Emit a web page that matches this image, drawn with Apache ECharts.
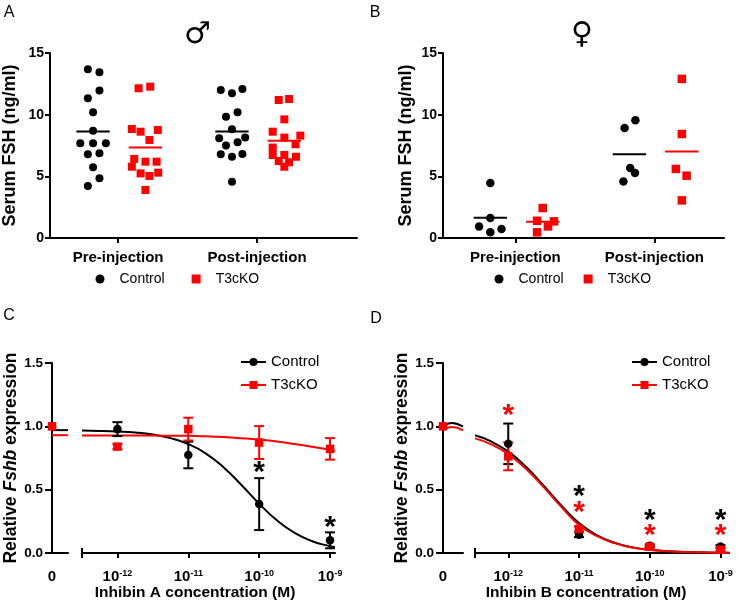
<!DOCTYPE html>
<html><head><meta charset="utf-8">
<script src="https://cdn.jsdelivr.net/npm/echarts@6/dist/echarts.min.js"></script>
<style>html,body{margin:0;padding:0;background:#fff}#c{width:742px;height:610px}</style>
</head><body><div id="c"></div>
<script>
// ================= DATA =================
const injectionCats = ['Pre-injection', 'Post-injection'];
const groupNames = ['Control', 'T3cKO'];

// Panel A (male): serum FSH, ng/ml
const aPreControl  = [13.68, 13.44, 11.95, 11.33, 10.19, 8.70, 7.68, 7.68, 7.68, 6.79, 6.87, 5.73, 4.84, 4.22];
const aPreT3cKO    = [12.14, 12.27, 8.84, 8.62, 8.76, 7.95, 6.41, 6.19, 6.19, 5.78, 5.24, 5.03, 5.30, 3.89];
const aPostControl = [12.00, 11.73, 12.08, 9.84, 10.19, 8.81, 8.08, 8.14, 7.50, 7.76, 6.79, 6.59, 6.81, 4.57];
const aPostT3cKO   = [11.19, 11.27, 9.62, 8.62, 8.14, 8.30, 7.33, 7.60, 6.73, 6.73, 6.59, 6.24, 6.14, 5.78];
// side-by-side spread of each dot in the dot plot (in dot widths)
const aPreControlSpread  = [-0.65, 0.8, 0.8, -0.65, 0, 0, -1.6, 0, 1.6, -0.65, 0.8, 0, 0.8, -0.65];
const aPreT3cKOSpread    = [-0.85, 0.6, -1.7, -0.6, 1.55, 0.5, -1.4, 0, 1.4, -1.7, -0.6, 0.5, 1.6, 0];
const aPostControlSpread = [-1.4, 0, 1.3, -0.75, 0.7, 0, -1.6, 1.65, -0.75, 0.7, -1.4, 0, 1.3, 0];
const aPostT3cKOSpread   = [-0.7, 0.6, 0, -1.45, 0, 2.0, -1.45, 1.4, -1.45, 0, 1.45, -0.7, 0.6, 0];

// Panel B (female): serum FSH, ng/ml
const bPreControl  = [4.46, 1.62, 0.94, 0.46, 0.73];
const bPreT3cKO    = [2.43, 1.40, 1.35, 0.94, 0.46];
const bPostControl = [8.92, 9.54, 4.59, 5.68, 5.27];
const bPostT3cKO   = [12.90, 8.43, 5.60, 5.05, 3.05];
const bPreControlSpread  = [0, 0, -1.4, 0, 1.4];
const bPreT3cKOSpread    = [0, -0.7, 1.4, 0.65, -0.7];
const bPostControlSpread = [-0.6, 0.75, -0.75, 0.1, 0.7];
const bPostT3cKOSpread   = [0, 0, -0.75, 0.6, 0];

// Panels C/D: relative Fshb expression vs log10 inhibin concentration (M)
const doseLog = [-12, -11, -10, -9];
const cZeroControl = 1.0, cZeroT3cKO = 1.0;
const cControlMean = [0.978, 0.774, 0.386, 0.100];
const cControlSem  = [0.055, 0.105, 0.205, 0.063];
const cT3cKOMean   = [0.840, 0.978, 0.872, 0.822];
const cT3cKOSem    = [0.020, 0.090, 0.130, 0.085];
const dZeroControl = 1.0, dZeroT3cKO = 1.0;
const dControlMean = [0.862, 0.145, 0.058, 0.052];
const dControlSem  = [0.160, 0.020, 0.010, 0.010];
const dT3cKOMean   = [0.763, 0.190, 0.050, 0.026];
const dT3cKOSem    = [0.110, 0.020, 0.010, 0.010];

// fitted curves
const cCurveX       = [-12.5, -12.25, -12, -11.75, -11.5, -11.25, -11, -10.75, -10.5, -10.25, -10, -9.75, -9.5, -9.25, -9, -8.93];
const cCurveControl = [0.967, 0.964, 0.959, 0.951, 0.935, 0.907, 0.86, 0.785, 0.675, 0.537, 0.389, 0.258, 0.159, 0.093, 0.053, 0.045];
const cCurveT3cKO   = [0.928, 0.928, 0.928, 0.927, 0.927, 0.926, 0.925, 0.921, 0.915, 0.906, 0.895, 0.88, 0.86, 0.838, 0.815, 0.808];
const dCurveX       = [-12.47, -12.25, -12, -11.75, -11.5, -11.25, -11, -10.75, -10.5, -10.25, -10, -9.5, -9, -8.88];
const dCurveControl = [0.93, 0.883, 0.80, 0.681, 0.532, 0.376, 0.236, 0.142, 0.082, 0.046, 0.025, 0.007, 0.002, 0.0015];
const dCurveT3cKO   = [0.905, 0.86, 0.78, 0.665, 0.52, 0.365, 0.222, 0.135, 0.078, 0.044, 0.024, 0.007, 0.002, 0.0015];
// curve pieces shown in the "0" segment of the broken axis
const cStubX = [0, 1];
const cStubControl = [0.97, 0.97];
const cStubT3cKO   = [0.93, 0.93];
const dStubX = [0.1, 0.45, 1];
const dStubControl = [1.01, 1.027, 0.998];
const dStubT3cKO   = [0.98, 0.994, 0.968];

// significance asterisks (x = log dose, y = value where drawn)
const cStarControlX = [-10, -9];
const cStarControlY = [0.68, 0.245];
const dStarControlX = [-11, -10, -9];
const dStarControlY = [0.494, 0.302, 0.302];
const dStarT3cKOX   = [-12, -11, -10, -9];
const dStarT3cKOY   = [1.131, 0.368, 0.184, 0.184];

// ================= STYLE / HELPERS =================
const FONT = '"Liberation Sans", Arial, sans-serif';
const BLACK = '#000000', RED = '#ff0000';
const DOT = 8;
const GROUP_SHIFT = [-0.18, 0.197];
const MEAN_HALF = 0.12;
const mean = a => a.reduce((s, v) => s + v, 0) / a.length;
const lineAx = {show: true, onZero: false, lineStyle: {color: BLACK, width: 2}};
const tickStyle = {color: BLACK, width: 2};

function dotSeries(name, lists, spreads, g, ax, symbol, color, size) {
  const data = [];
  lists.forEach((vals, ci) => vals.forEach((v, i) => data.push({
    value: [ci + 1 + GROUP_SHIFT[g], v], symbolOffset: [spreads[ci][i] * DOT, 0]})));
  return {type: 'scatter', name, xAxisIndex: ax, yAxisIndex: ax, symbol, symbolSize: size,
    itemStyle: {color, opacity: 1}, data, z: 3, silent: true};
}
function meanSeries(lists, g, ax, color) {
  return {type: 'custom', xAxisIndex: ax, yAxisIndex: ax, silent: true, z: 4,
    data: lists.map((vals, ci) => [ci + 1 + GROUP_SHIFT[g], mean(vals)]),
    encode: {x: 0, y: 1},
    renderItem: (p, api) => {
      const x = api.value(0), m = api.value(1);
      const a = api.coord([x - MEAN_HALF, m]), b = api.coord([x + MEAN_HALF, m]);
      return {type: 'line', shape: {x1: a[0], y1: a[1], x2: b[0], y2: b[1]}, style: {stroke: color, lineWidth: 2}};
    }};
}
function errSeries(xs, means, errs, ax, color) {
  return {type: 'custom', xAxisIndex: ax, yAxisIndex: ax, silent: true, z: 3,
    data: xs.map((x, i) => [x, means[i], errs[i]]), encode: {x: 0, y: 1},
    renderItem: (p, api) => {
      const x = api.value(0), m = api.value(1), e = api.value(2);
      const t = api.coord([x, m + e]), b = api.coord([x, m - e]);
      const hw = 5, st = {stroke: color, lineWidth: 2};
      return {type: 'group', children: [
        {type: 'line', shape: {x1: t[0], y1: t[1], x2: b[0], y2: b[1]}, style: st},
        {type: 'line', shape: {x1: t[0] - hw, y1: t[1], x2: t[0] + hw, y2: t[1]}, style: st},
        {type: 'line', shape: {x1: b[0] - hw, y1: b[1], x2: b[0] + hw, y2: b[1]}, style: st}]};
    }};
}
function pointSeries(xs, ys, ax, color, symbol, size) {
  return {type: 'scatter', xAxisIndex: ax, yAxisIndex: ax, symbol, symbolSize: size, silent: true, z: 4,
    itemStyle: {color, opacity: 1}, data: xs.map((x, i) => [x, ys[i]])};
}
function curveSeries(name, xs, ys, ax, color, symbol) {
  return {type: 'line', name, xAxisIndex: ax, yAxisIndex: ax, data: xs.map((x, i) => [x, ys[i]]),
    smooth: 0.5, symbol, showSymbol: false, symbolSize: 8, silent: true, z: 2,
    lineStyle: {color, width: 2}, itemStyle: {color}};
}
function starSeries(xs, ys, ax, color) {
  return {type: 'custom', xAxisIndex: ax, yAxisIndex: ax, silent: true, z: 6,
    data: xs.map((x, i) => [x, ys[i]]), encode: {x: 0, y: 1},
    renderItem: (p, api) => {
      const c = api.coord([api.value(0), api.value(1)]);
      return {type: 'text', x: c[0], y: c[1] + 6, style: {text: '*', fill: color, fontSize: 30, fontWeight: 'bold',
        fontFamily: FONT, align: 'center', verticalAlign: 'middle', textAlign: 'center', textVerticalAlign: 'middle', opacity: 1}};
    }};
}
function dotYAxis(gi, nameGap) {
  return {type: 'value', gridIndex: gi, min: 0, max: 15, interval: 5,
    name: 'Serum FSH (ng/ml)', nameLocation: 'middle', nameGap,
    nameTextStyle: {fontSize: 18, fontWeight: 'bold', color: BLACK, fontFamily: FONT},
    axisLine: lineAx, axisTick: {show: true, length: 5, lineStyle: tickStyle},
    axisLabel: {color: BLACK, fontSize: 14, fontWeight: 'bold', fontFamily: FONT, margin: 6},
    splitLine: {show: false}};
}
function dotXAxis(gi, min, max) {
  return {type: 'value', gridIndex: gi, min, max, axisLine: lineAx,
    axisTick: {show: true, length: 5, customValues: [1, 2], lineStyle: tickStyle},
    axisLabel: {customValues: [1, 2], formatter: v => injectionCats[Math.round(v) - 1],
      color: BLACK, fontSize: 15, fontWeight: 'bold', fontFamily: FONT, margin: 12},
    splitLine: {show: false}};
}
function doseYAxis(gi, show, nameGap) {
  return {type: 'value', gridIndex: gi, min: 0, max: 1.5, interval: 0.5, show,
    name: '{n|Relative }{i|Fshb}{n| expression}', nameLocation: 'middle', nameGap,
    nameTextStyle: {rich: {
      n: {fontSize: 17.5, fontWeight: 'bold', color: BLACK, fontFamily: FONT},
      i: {fontSize: 17.5, fontWeight: 'bold', fontStyle: 'italic', color: BLACK, fontFamily: FONT}}},
    axisLine: lineAx, axisTick: {show: true, length: 7, lineStyle: tickStyle},
    axisLabel: {color: BLACK, fontSize: 13.5, fontWeight: 'bold', fontFamily: FONT, margin: 9,
      formatter: v => v.toFixed(1)},
    splitLine: {show: false}};
}
const powRich = {
  b: {fontSize: 15, fontWeight: 'bold', color: BLACK, fontFamily: FONT},
  s: {fontSize: 9, fontWeight: 'bold', color: BLACK, fontFamily: FONT, verticalAlign: 'top'}
};
function doseXAxisRight(gi, min, max) {
  return {type: 'value', gridIndex: gi, min, max, axisLine: lineAx,
    axisTick: {show: true, length: 5, customValues: [min].concat(doseLog), lineStyle: tickStyle},
    axisLabel: {customValues: doseLog, formatter: v => '{b|10}{s|' + v + '}', rich: powRich, margin: 16},
    splitLine: {show: false}};
}
function capXAxis(gi, min, max) {
  return {type: 'value', gridIndex: gi, min, max, position: 'bottom', axisLine: {show: false},
    axisTick: {show: true, inside: true, length: 5, customValues: [min], lineStyle: tickStyle},
    axisLabel: {show: false}, splitLine: {show: false}};
}
function doseXAxisLeft(gi) {
  return {type: 'value', gridIndex: gi, min: 0, max: 1, axisLine: lineAx, axisTick: {show: false},
    axisLabel: {customValues: [0], formatter: () => '0', color: BLACK, fontSize: 15, fontWeight: 'bold', fontFamily: FONT, margin: 16},
    splitLine: {show: false}};
}
function legendFor(names, left, top, orient, opts) {
  return Object.assign({data: names, left, top, orient, selectedMode: false, padding: 0,
    formatter: n => n.split('#')[0],
    textStyle: {color: BLACK, fontFamily: FONT}}, opts);
}
function txt(text, x, y, size, weight, family) {
  return {type: 'text', x, y, silent: true, style: {text, fontSize: size, fontWeight: weight || 'normal',
    fontFamily: family || FONT, fill: BLACK, align: 'center', verticalAlign: 'middle',
    textAlign: 'center', textVerticalAlign: 'middle'}};
}

// ================= CHART =================
const chart = echarts.init(document.getElementById('c'), null, {renderer: 'canvas'});
const dotLegendText = {color: BLACK, fontFamily: FONT, fontSize: 14, lineHeight: 14, padding: [0, 0, 0, 10]};
const option = {
  animation: false,
  backgroundColor: '#ffffff',
  grid: [
    {left: 50, top: 53, width: 307, height: 185, outerBoundsMode: 'none'},
    {left: 443, top: 53, width: 281, height: 185, outerBoundsMode: 'none'},
    {left: 52, top: 363, width: 16, height: 190, outerBoundsMode: 'none'},
    {left: 82, top: 363, width: 253, height: 190, outerBoundsMode: 'none'},
    {left: 443, top: 363, width: 20, height: 190, outerBoundsMode: 'none'},
    {left: 475, top: 363, width: 254, height: 190, outerBoundsMode: 'none'}
  ],
  xAxis: [
    dotXAxis(0, 0.51, 2.72), dotXAxis(1, 0.48, 2.50),
    doseXAxisLeft(2), doseXAxisRight(3, -12.5, -8.93),
    doseXAxisLeft(4), doseXAxisRight(5, -12.47, -8.88),
    capXAxis(3, -12.5, -8.93), capXAxis(5, -12.47, -8.88)
  ],
  yAxis: [
    dotYAxis(0, 31), dotYAxis(1, 28),
    doseYAxis(2, true, 30), doseYAxis(3, false, 30),
    doseYAxis(4, true, 28), doseYAxis(5, false, 28)
  ],
  legend: [
    legendFor(['Control#A', 'T3cKO#A'], 95.5, 272, 'horizontal', {itemWidth: 9, itemHeight: 9, itemGap: 27,
      textStyle: dotLegendText}),
    legendFor(['Control#B', 'T3cKO#B'], 494.5, 272, 'horizontal', {itemWidth: 9, itemHeight: 9, itemGap: 20,
      textStyle: dotLegendText}),
    legendFor(['Control#C', 'T3cKO#C'], 240, 353, 'vertical', {itemWidth: 25, itemHeight: 10, itemGap: 5,
      textStyle: {color: BLACK, fontFamily: FONT, fontSize: 15, lineHeight: 18}}),
    legendFor(['Control#D', 'T3cKO#D'], 631, 353, 'vertical', {itemWidth: 25, itemHeight: 10, itemGap: 5,
      textStyle: {color: BLACK, fontFamily: FONT, fontSize: 15, lineHeight: 18}})
  ],
  graphic: [
    txt('A', 9, 12.5, 16), txt('B', 375, 12.5, 16), txt('C', 9, 316, 16), txt('D', 376, 318.5, 16),
    txt('\u2642', 197.5, 35, 30, 'normal', '"DejaVu Sans"'),
    txt('\u2640', 582, 35.5, 30, 'normal', '"DejaVu Sans"'),
    txt('Inhibin A concentration (M)', 195, 593, 15.5, 'bold'),
    txt('Inhibin B concentration (M)', 586, 593, 15.5, 'bold')
  ],
  series: [
    // Panel A
    dotSeries('Control#A', [aPreControl, aPostControl], [aPreControlSpread, aPostControlSpread], 0, 0, 'circle', BLACK, 8),
    dotSeries('T3cKO#A', [aPreT3cKO, aPostT3cKO], [aPreT3cKOSpread, aPostT3cKOSpread], 1, 0, 'rect', RED, 8),
    meanSeries([aPreControl, aPostControl], 0, 0, BLACK),
    meanSeries([aPreT3cKO, aPostT3cKO], 1, 0, RED),
    // Panel B
    dotSeries('Control#B', [bPreControl, bPostControl], [bPreControlSpread, bPostControlSpread], 0, 1, 'circle', BLACK, 8.5),
    dotSeries('T3cKO#B', [bPreT3cKO, bPostT3cKO], [bPreT3cKOSpread, bPostT3cKOSpread], 1, 1, 'rect', RED, 8.5),
    meanSeries([bPreControl, bPostControl], 0, 1, BLACK),
    meanSeries([bPreT3cKO, bPostT3cKO], 1, 1, RED),
    // Panel C
    curveSeries('Control#C', cCurveX, cCurveControl, 3, BLACK, 'circle'),
    curveSeries('T3cKO#C', cCurveX, cCurveT3cKO, 3, RED, 'rect'),
    curveSeries('stubC0', cStubX, cStubControl, 2, BLACK, 'none'),
    curveSeries('stubC1', cStubX, cStubT3cKO, 2, RED, 'none'),
    errSeries(doseLog, cControlMean, cControlSem, 3, BLACK),
    pointSeries(doseLog, cControlMean, 3, BLACK, 'circle', 8.5),
    pointSeries([0], [cZeroControl], 2, BLACK, 'circle', 8.5),
    errSeries(doseLog, cT3cKOMean, cT3cKOSem, 3, RED),
    pointSeries(doseLog, cT3cKOMean, 3, RED, 'rect', 8.5),
    pointSeries([0], [cZeroT3cKO], 2, RED, 'rect', 8.5),
    starSeries(cStarControlX, cStarControlY, 3, BLACK),
    // Panel D
    curveSeries('Control#D', dCurveX, dCurveControl, 5, BLACK, 'circle'),
    curveSeries('T3cKO#D', dCurveX, dCurveT3cKO, 5, RED, 'rect'),
    curveSeries('stubD0', dStubX, dStubControl, 4, BLACK, 'none'),
    curveSeries('stubD1', dStubX, dStubT3cKO, 4, RED, 'none'),
    errSeries(doseLog, dControlMean, dControlSem, 5, BLACK),
    pointSeries(doseLog, dControlMean, 5, BLACK, 'circle', 8.5),
    pointSeries([0], [dZeroControl], 4, BLACK, 'circle', 8.5),
    errSeries(doseLog, dT3cKOMean, dT3cKOSem, 5, RED),
    pointSeries(doseLog, dT3cKOMean, 5, RED, 'rect', 8.5),
    pointSeries([0], [dZeroT3cKO], 4, RED, 'rect', 8.5),
    starSeries(dStarControlX, dStarControlY, 5, BLACK),
    starSeries(dStarT3cKOX, dStarT3cKOY, 5, RED)
  ]
};
chart.setOption(option);
</script></body></html>
